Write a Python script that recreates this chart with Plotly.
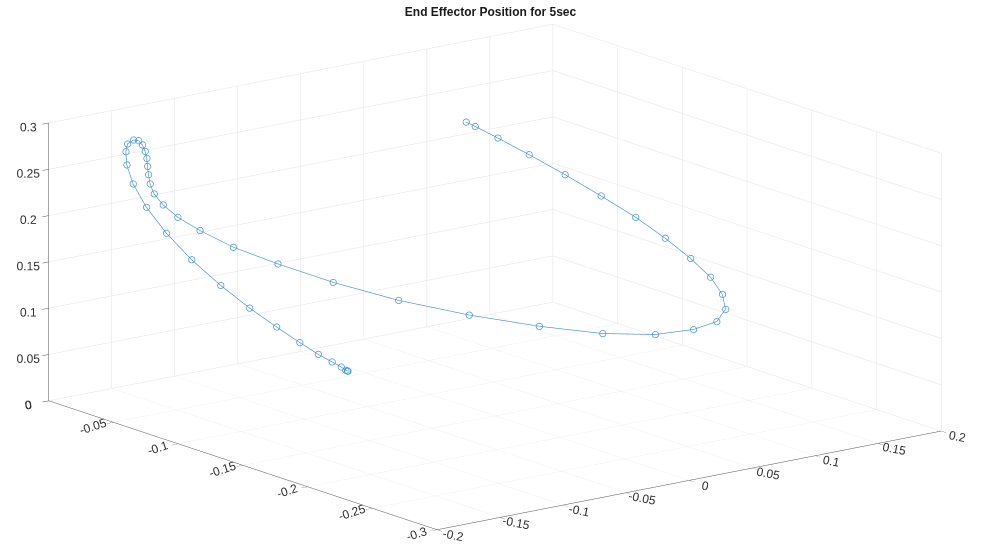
import plotly.graph_objects as go

# End effector trajectory (m)
x = [-0.0758, -0.0756, -0.0753, -0.0755, -0.0781, -0.0860, -0.0985, -0.1145, -0.1343, -0.1495,
     -0.1602, -0.1677, -0.1665, -0.1659, -0.1614, -0.1559, -0.1532, -0.1484, -0.1470, -0.1473,
     -0.1500, -0.1513, -0.1532, -0.1554, -0.1574, -0.1565, -0.1546, -0.1450, -0.1330, -0.1136,
     -0.0887, -0.0610, -0.0345, -0.0005, 0.0315, 0.0592, 0.0840, 0.1036, 0.1132, 0.1222,
     0.1292, 0.1283, 0.1255, 0.1224, 0.1183, 0.1122, 0.1053, 0.0965, 0.0851, 0.0772, 0.0723]
y = [-0.1101, -0.1095, -0.1080, -0.1046, -0.1001, -0.0971, -0.0950, -0.0927, -0.0911, -0.0836,
     -0.0716, -0.0594, -0.0428, -0.0319, -0.0227, -0.0166, -0.0153, -0.0152, -0.0177, -0.0210,
     -0.0257, -0.0283, -0.0307, -0.0336, -0.0368, -0.0390, -0.0441, -0.0461, -0.0515, -0.0584,
     -0.0686, -0.0843, -0.1090, -0.1304, -0.1534, -0.1755, -0.1920, -0.2024, -0.2110, -0.2091,
     -0.1998, -0.1915, -0.1788, -0.1622, -0.1434, -0.1226, -0.1015, -0.0823, -0.0693, -0.0594, -0.0572]
z = [0.050, 0.050, 0.050, 0.052, 0.056, 0.065, 0.080, 0.100, 0.125, 0.150,
     0.175, 0.200, 0.220, 0.240, 0.255, 0.265, 0.272, 0.275, 0.275, 0.272,
     0.268, 0.262, 0.255, 0.248, 0.240, 0.230, 0.220, 0.205, 0.190, 0.170,
     0.150, 0.130, 0.115, 0.100, 0.090, 0.085, 0.085, 0.090, 0.100, 0.110,
     0.120, 0.135, 0.150, 0.165, 0.180, 0.195, 0.210, 0.225, 0.240, 0.250, 0.255]

x_ticks = [-0.2, -0.15, -0.1, -0.05, 0, 0.05, 0.1, 0.15, 0.2]
x_labels = ['-0.2', '-0.15', '-0.1', '-0.05', '0', '0.05', '0.1', '0.15', '0.2']
y_ticks = [-0.3, -0.25, -0.2, -0.15, -0.1, -0.05, 0]
y_labels = ['-0.3', '-0.25', '-0.2', '-0.15', '-0.1', '-0.05', '0']
z_ticks = [0, 0.05, 0.1, 0.15, 0.2, 0.25, 0.3]
z_labels = ['0', '0.05', '0.1', '0.15', '0.2', '0.25', '0.3']

line_color = '#3f92d2'

fig = go.Figure(go.Scatter3d(
    x=x, y=y, z=z,
    mode='lines+markers',
    line=dict(color=line_color, width=1.3),
    marker=dict(symbol='circle-open', size=4, color=line_color),
    hoverinfo='skip',
))

font = dict(family='Liberation Sans, Arial, sans-serif', size=12, color='#303030')


def axis(rng, vals, labels, angle):
    return dict(
        range=rng, autorange=False,
        tickmode='array', tickvals=vals, ticktext=labels, tickangle=angle,
        showgrid=True, gridcolor='#e2e2e2', gridwidth=1,
        showline=True, linecolor='#505050', linewidth=1,
        ticks='outside', ticklen=8, tickcolor='#505050',
        tickfont=font, showbackground=False, zeroline=False,
        showspikes=False, title=dict(text=''),
    )


S = 2.295
fig.update_layout(
    width=981, height=554,
    margin=dict(l=0, r=0, t=0, b=0),
    paper_bgcolor='white',
    title=dict(text='<b>End Effector Position for 5sec</b>', x=0.5, xanchor='center',
               y=1 - 12 / 554, yanchor='middle',
               font=dict(family='Liberation Sans, Arial, sans-serif', size=12, color='#1a1a1a')),
    showlegend=False,
    scene=dict(
        domain=dict(x=[0.0094, 1.0], y=[0, 1]),
        xaxis=axis([-0.2, 0.2], x_ticks, x_labels, 11),
        yaxis=axis([-0.3, 0], y_ticks, y_labels, -18),
        zaxis=axis([0, 0.3], z_ticks, z_labels, 0),
        aspectmode='manual',
        aspectratio=dict(x=1 * S, y=1.003 * S, z=0.452 * S),
        camera=dict(
            eye=dict(x=-0.589 * 2, y=-0.7669 * 2, z=0.255 * 2),
            up=dict(x=0, y=0, z=1),
            center=dict(x=0, y=0, z=0),
            projection=dict(type='orthographic'),
        ),
        bgcolor='white',
    ),
)

fig.write_html('out.html', config={'displayModeBar': False})
